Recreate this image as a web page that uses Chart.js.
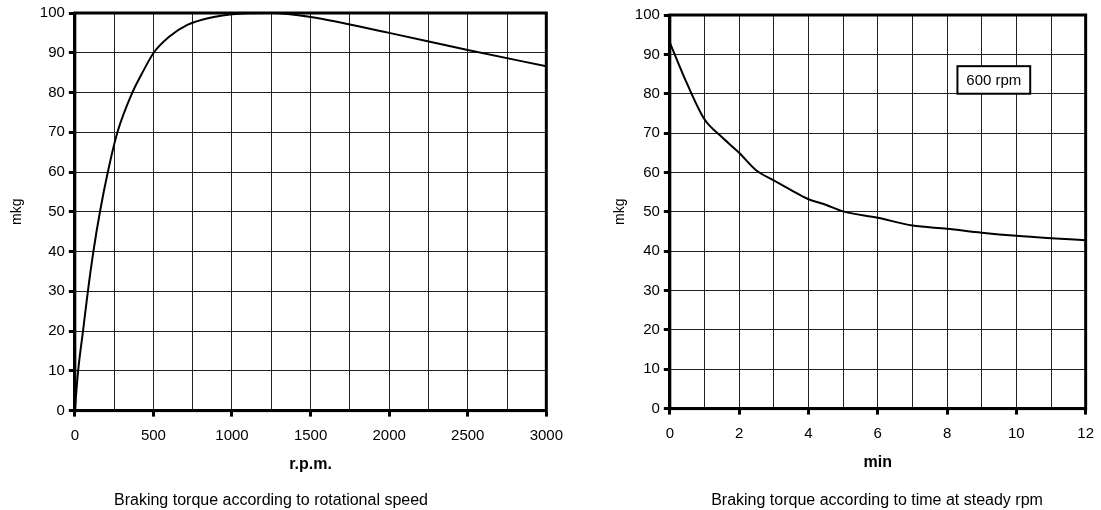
<!DOCTYPE html>
<html>
<head>
<meta charset="utf-8">
<script src="https://cdn.jsdelivr.net/npm/chart.js@4.4.1/dist/chart.umd.min.js"></script>
<style>
  html, body { margin: 0; background: #fff; overflow: hidden; }
  #wrap { position: relative; width: 1101px; height: 510px; overflow: hidden; }
  .box { position: absolute; top: 0; height: 510px; }
</style>
</head>
<body>
<div id="wrap">
  <div class="box" style="left:0; width:573px;"><canvas id="speed_chart"></canvas></div>
  <div class="box" style="left:595px; width:509px;"><canvas id="time_chart"></canvas></div>
</div>
<script>
// braking torque vs rotational speed
var rpmValues    = [0, 21, 52, 83, 118, 160, 210, 271, 366, 430, 502, 600, 716, 884, 1000, 1250, 1500, 2000, 2500, 3000];
var rpmTorque    = [0, 10, 20, 30, 40, 50, 60, 70, 80, 85, 90, 94, 97, 99, 99.7, 100, 99, 95, 90.7, 86.6];

// braking torque vs time at 600 rpm
var minValues    = [0, 0.5, 1, 1.5, 2, 2.5, 3, 3.5, 4, 4.5, 5, 6, 7, 8, 9, 10, 11, 12];
var minTorque    = [93, 82.5, 73.5, 69, 65, 60.5, 58, 55.5, 53.2, 51.8, 50.1, 48.5, 46.5, 45.7, 44.7, 43.9, 43.3, 42.8];

var rpmTickStep = 500, rpmGridStep = 250;
var minTickStep = 2, minGridStep = 1;
var torqueStep = 10;

var noteText = '600 rpm';
var noteX = [8.3, 10.4];
var noteY = [80, 87];

var font = 'Liberation Sans, Arial, sans-serif';

var toPoints = function(xs, ys){
  var pts = [];
  for (var i = 0; i < xs.length; i++) {
    pts.push({x: xs[i], y: ys[i]});
  }
  return pts;
}

var framePlugin = {
  id: 'frame',
  afterDraw: function(chart){
    var a = chart.chartArea, c = chart.ctx;
    c.save();
    c.strokeStyle = '#000';
    c.lineWidth = 3;
    c.strokeRect(a.left, a.top, a.right - a.left, a.bottom - a.top);
    c.restore();
  }
}

var notePlugin = {
  id: 'note',
  afterDraw: function(chart){
    if (chart.canvas.id !== 'time_chart') return;
    var c = chart.ctx, x = chart.scales.x, y = chart.scales.y;
    var l = x.getPixelForValue(noteX[0]), r = x.getPixelForValue(noteX[1]);
    var t = y.getPixelForValue(noteY[1]), b = y.getPixelForValue(noteY[0]);
    c.save();
    c.fillStyle = '#fff';
    c.fillRect(l, t, r - l, b - t);
    c.strokeStyle = '#000';
    c.lineWidth = 2;
    c.strokeRect(l, t, r - l, b - t);
    c.fillStyle = '#000';
    c.font = '15px ' + font;
    c.textAlign = 'center';
    c.textBaseline = 'middle';
    c.fillText(noteText, (l + r) / 2, (t + b) / 2 + 1);
    c.restore();
  }
}

// the caption under each chart is not centred on the canvas, so the title
// block only reserves the room and the text is drawn here
var captionPlugin = {
  id: 'caption',
  afterDraw: function(chart){
    var opts = chart.options.plugins.title;
    var c = chart.ctx, tb = chart.titleBlock;
    c.save();
    c.fillStyle = '#000';
    c.font = '16px ' + font;
    c.textAlign = 'center';
    c.textBaseline = 'middle';
    c.fillText(opts.text, chart.$captionX, tb.bottom - 9.6);
    c.restore();
  }
}

var makeChart = function(id, points, xMax, tickStep, gridStep, xTitle, caption, pad){
  var isLabel = function(v){ return Math.abs(v / tickStep - Math.round(v / tickStep)) < 1e-6; };
  var chart = new Chart(document.getElementById(id).getContext('2d'), {
    type: 'line',
    data: {
      datasets: [{
        data: points,
        borderColor: '#000',
        borderWidth: 2,
        pointRadius: 0,
        cubicInterpolationMode: 'monotone',
        fill: false
      }]
    },
    options: {
      responsive: true,
      maintainAspectRatio: false,
      animation: false,
      layout: { padding: { top: pad.top, right: 0, left: pad.left, bottom: 0 } },
      plugins: {
        legend: { display: false },
        tooltip: { enabled: false },
        title: {
          display: true,
          position: 'bottom',
          text: caption,
          color: 'rgba(0,0,0,0)',
          font: { family: font, size: 16, weight: 'normal' },
          padding: { top: pad.caption, bottom: 0 }
        }
      },
      scales: {
        x: {
          type: 'linear',
          min: 0,
          max: xMax,
          ticks: {
            stepSize: gridStep,
            color: '#000',
            font: { family: font, size: 15 },
            padding: 10,
            maxRotation: 0,
            autoSkip: false,
            callback: function(v){ return isLabel(v) ? v : ''; }
          },
          grid: {
            color: '#222',
            lineWidth: 1,
            tickLength: 6,
            tickWidth: 3,
            tickColor: function(ctx){ return isLabel(ctx.tick.value) ? '#000' : 'rgba(0,0,0,0)'; }
          },
          border: { color: '#000', width: 3 },
          title: {
            display: true,
            text: xTitle,
            color: '#000',
            font: { family: font, size: 16, weight: 'bold' },
            padding: { top: 0, bottom: 0 }
          }
        },
        y: {
          min: 0,
          max: 100,
          ticks: {
            stepSize: torqueStep,
            color: '#000',
            font: { family: font, size: 15 },
            padding: 4
          },
          grid: {
            color: '#222',
            lineWidth: 1,
            tickLength: 6,
            tickWidth: 3,
            tickColor: '#000'
          },
          border: { color: '#000', width: 3 },
          title: {
            display: true,
            text: 'mkg',
            color: '#000',
            font: { family: font, size: 14, weight: 'normal' },
            padding: { top: 0, bottom: pad.yTitle }
          }
        }
      }
    },
    plugins: [framePlugin, notePlugin, captionPlugin]
  });
  chart.$captionX = pad.captionX;
  chart.draw();
  return chart;
}

makeChart('speed_chart', toPoints(rpmValues, rpmTorque), 3000, rpmTickStep, rpmGridStep,
  'r.p.m.', 'Braking torque according to rotational speed',
  {top: 12, left: 9, yTitle: 10, caption: 17, captionX: 271});
makeChart('time_chart', toPoints(minValues, minTorque), 12, minTickStep, minGridStep,
  'min', 'Braking torque according to time at steady rpm',
  {top: 15, left: 17, yTitle: 2, caption: 19, captionX: 282});
</script>
</body>
</html>
